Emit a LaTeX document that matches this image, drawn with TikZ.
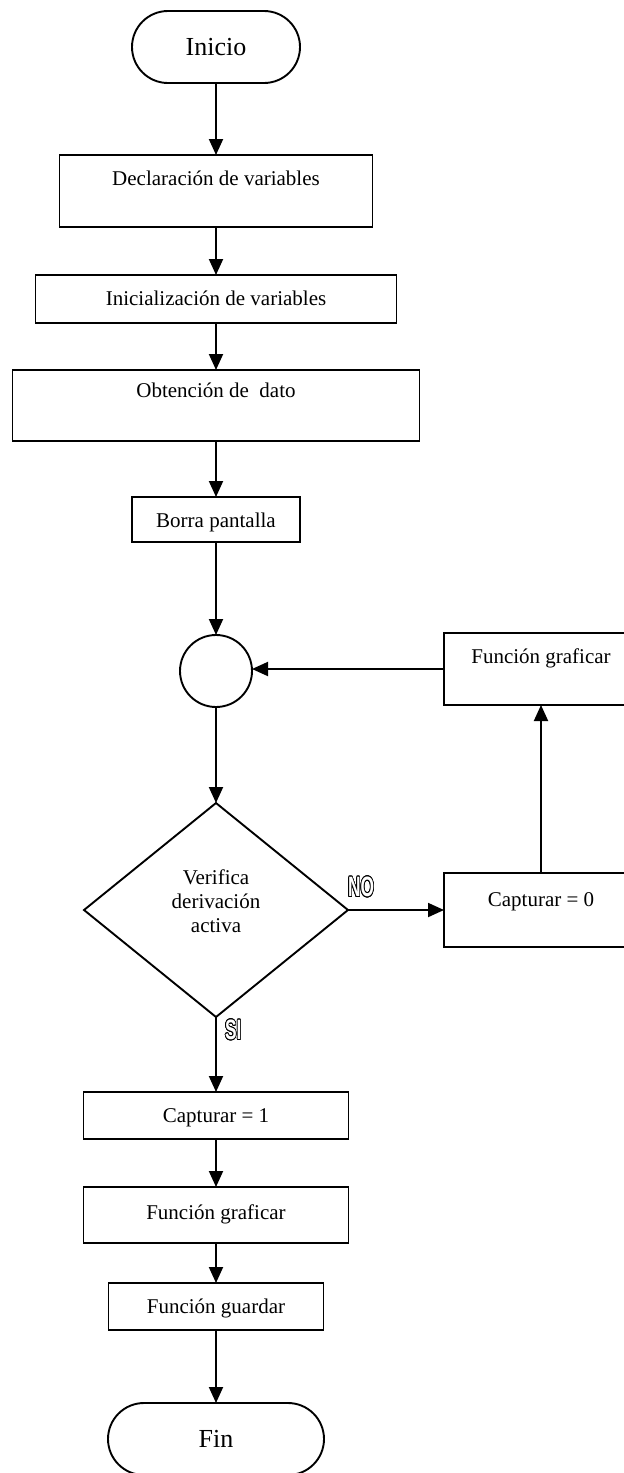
\documentclass[tikz,border=0pt]{standalone}
\usepackage{fontspec}
\setmainfont{Liberation Serif}
\newfontfamily\tagfont{Liberation Sans}
\usepackage{contour}
\contourlength{1.1pt}
\usetikzlibrary{positioning, arrows.meta, shapes.geometric}

\begin{document}
\begin{tikzpicture}[x=1pt, y=1pt, line width=1.9pt,
    every node/.style={font=\fontsize{21}{24}\selectfont, outer sep=0pt},
    proc/.style={draw, rectangle, inner sep=0pt, align=center},
    term/.style={draw, rectangle, rounded corners=36pt, inner sep=0pt, minimum height=72pt, font=\fontsize{26}{30}\selectfont},
    flow/.style={-{Triangle[length=16pt, width=14pt]}},
    tag/.style={inner sep=0pt, font=\tagfont\bfseries\fontsize{28}{28}\selectfont, xscale=0.62, transform shape}]
  \useasboundingbox (0,0) rectangle (624,-1473);

  % main column
  \node[term, minimum width=168pt] (ini) at (216,-47) {Inicio};
  \node[proc, below=72pt of ini, minimum width=313pt, text height=30pt, text depth=42pt] (decl) {Declaración de variables};
  \node[proc, below=48pt of decl, minimum width=361pt, text height=30pt, text depth=18pt] (inic) {Inicialización de variables};
  \node[proc, below=47pt of inic, minimum width=407pt, text height=27pt, text depth=44pt] (obt) {Obtención de \ dato};
  \node[proc, below=56pt of obt, minimum width=168pt, text height=30pt, text depth=15pt] (borra) {Borra pantalla};
  \node[draw, circle, minimum size=72pt, inner sep=0pt, below=93pt of borra] (junc) {};
  \node[draw, diamond, minimum width=264pt, minimum height=214pt, inner sep=0pt, align=center, text depth=18pt, below=96pt of junc] (dec) {Verifica\\derivación\\activa};
  \node[proc, below=75pt of dec, minimum width=265pt, text height=30pt, text depth=17pt] (cap1) {Capturar = 1};
  \node[proc, below=48pt of cap1, minimum width=265pt, text height=32pt, text depth=24pt] (graf1) {Función graficar};
  \node[proc, below=40pt of graf1, minimum width=215pt, text height=30pt, text depth=17pt] (guar) {Función guardar};
  \node[term, below=73pt of guar, minimum width=216pt] (fin) {Fin};

  % loop on the right
  \node[proc, right=96pt of dec, minimum width=194pt, text height=33pt, text depth=41pt] (cap0) {Capturar = 0};
  \node[proc, above=168pt of cap0, minimum width=194pt, text height=30pt, text depth=42pt] (graf0) {Función graficar};

  % branch tags
  \node[tag, anchor=south west] (no) at ([yshift=12pt]dec.east) {\contour{black}{\color{white}NO}};
  \node[tag, anchor=north west] (si) at ([xshift=9pt, yshift=-3pt]dec.south) {\contour{black}{\color{white}SI}};

  \draw[flow] (ini) -- (decl);
  \draw[flow] (decl) -- (inic);
  \draw[flow] (inic) -- (obt);
  \draw[flow] (obt) -- (borra);
  \draw[flow] (borra) -- (junc);
  \draw[flow] (junc) -- (dec);
  \draw[flow] (dec) -- (cap1);
  \draw[flow] (cap1) -- (graf1);
  \draw[flow] (graf1) -- (guar);
  \draw[flow] (guar) -- (fin);
  \draw[flow] (dec.east) -- (cap0.west);
  \draw[flow] (cap0) -- (graf0);
  \draw[flow] (graf0.west) -- (graf0.west -| junc.east);
\end{tikzpicture}
\end{document}
